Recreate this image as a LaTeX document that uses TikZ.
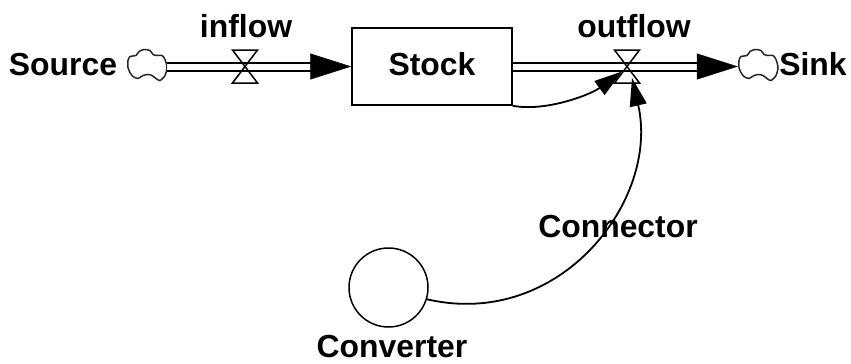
\documentclass[tikz,border=0pt]{standalone}
\usepackage{fontspec}
\setmainfont{Liberation Sans}
\usetikzlibrary{arrows.meta,calc}
\begin{document}
\begin{tikzpicture}[x=1bp,y=-1bp,
  lbl/.style={font=\fontsize{32}{38}\selectfont\bfseries, inner sep=0pt, anchor=base},
  stockbox/.style={draw, line width=1.5bp, minimum width=160bp, minimum height=77bp, inner sep=0pt},
  convnode/.style={circle, draw, line width=1.5bp, minimum size=79bp, inner sep=0pt},
  cloudnode/.style={minimum width=40bp, minimum height=32bp, inner sep=0pt},
  cloudline/.style={draw=black!85, line width=1.5bp},
  pipe/.style={draw, line width=2bp, double, double distance=6bp, shorten >=40bp},
  flowtip/.style={-{Triangle[length=41bp,width=26bp]}, line width=0.4bp},
  link/.style={draw, line width=1.8bp, -{Triangle[length=28bp,width=17bp]}},
  valveline/.style={line width=1.5bp}
]
\useasboundingbox (0,0) rectangle (851,363);

% cloud outline, drawn around a given centre
\def\cloudat#1{%
  \draw[cloudline, shift={(#1)}] plot[smooth cycle, tension=0.45] coordinates {
    (-19,-6) (-17,-10) (-11,-11) (-8,-15) (-3,-17) (3,-16) (6,-12) (10,-11) (15,-11) (18,-7)
    (20,1) (18,9) (13,14) (9,12) (5,9) (1,8) (-4,9) (-9,12) (-14,10) (-17,6) (-19,1)};}

% stocks, clouds and converter
\node[stockbox] (stock) at (432,66.5) {};
\node[lbl] (stocklbl) at (432,75) {Stock};
\node[cloudnode] (source) at (147,66.5) {};
\node[cloudnode] (sink) at (758,66.5) {};
\cloudat{source}
\cloudat{sink}
\node[convnode] (conv) at (388.5,287.5) {};

% flow valves
\coordinate (inflow) at (245,66.5);
\coordinate (outflow) at (627,66.5);

% pipes with their heads
\draw[pipe] (source.east) -- (stock.west);
\draw[flowtip] ($(stock.west)+(-41,0)$) -- (stock.west);
\draw[pipe] (stock.east) -- (sink.west);
\draw[flowtip] ($(sink.west)+(-41,0)$) -- (sink.west);

% bow-tie valves
\foreach \v in {inflow,outflow}{
  \draw[valveline] ($(\v)+(-12.5,-16.5)$) -- ($(\v)+(12.5,-16.5)$) -- (\v) -- cycle;
  \draw[valveline] ($(\v)+(-12.5,16.5)$) -- ($(\v)+(12.5,16.5)$) -- (\v) -- cycle;
}

% information links
\draw[link] (stock.south east) .. controls (545,112) and (590,95) .. ($(outflow)+(-5,5)$);
\draw[link] (conv.-17) .. controls (560,330) and (660,200) .. ($(outflow)+(5,11.5)$);

% labels
\node[lbl] (sourcelbl) at (63,75) {Source};
\node[lbl] (sinklbl) at (813,75) {Sink};
\node[lbl] (inflowlbl) at (246,37) {inflow};
\node[lbl] (outflowlbl) at (634,37) {outflow};
\node[lbl] (connlbl) at (618,237) {Connector};
\node[lbl] (convlbl) at (392,357) {Converter};
\end{tikzpicture}
\end{document}
